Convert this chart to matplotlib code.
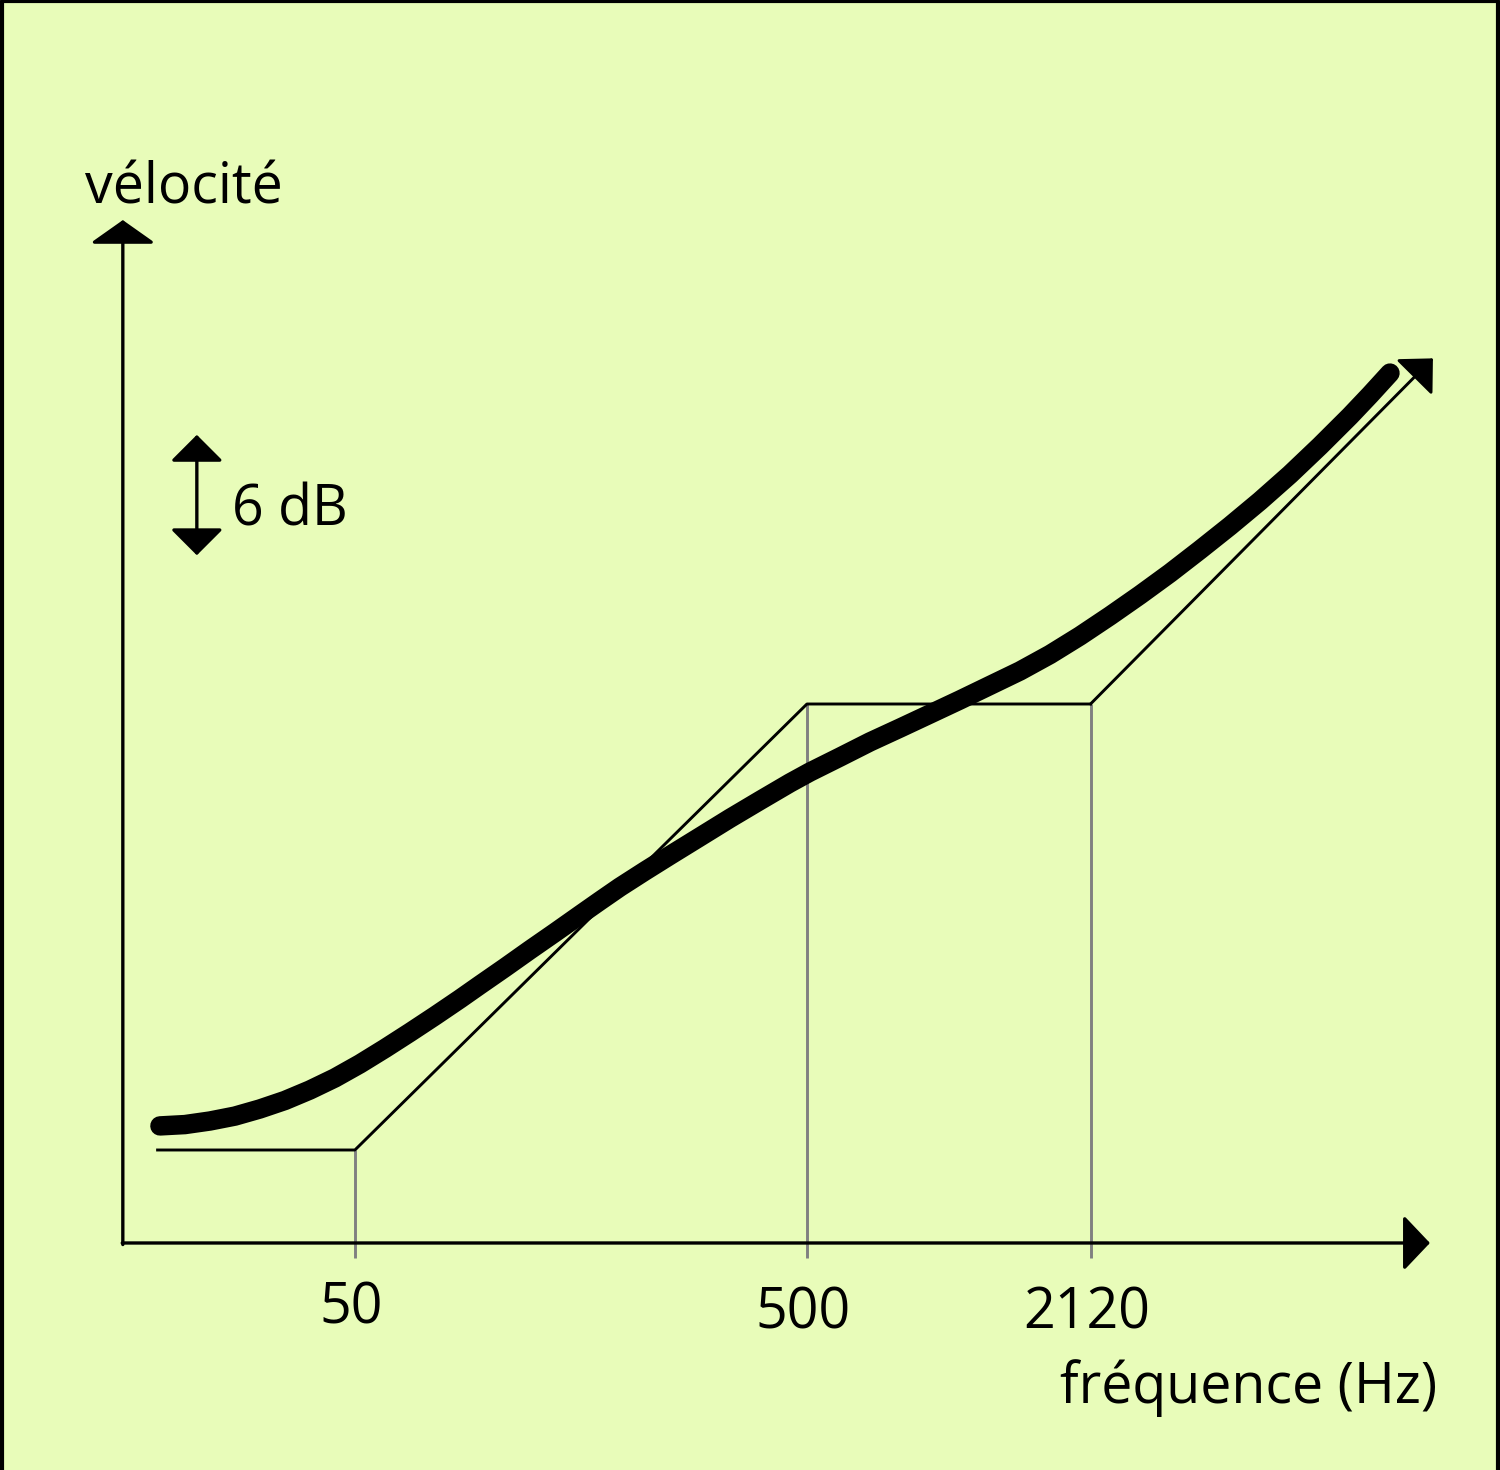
import matplotlib
matplotlib.use('Agg')
import matplotlib.pyplot as plt
from matplotlib.lines import Line2D

plt.rcParams['font.family'] = ['Open Sans', 'DejaVu Sans']

# Measured response (frequency in Hz, level in dB)
curve_hz = [18.52, 21.03, 23.89, 27.13, 30.81, 35.00, 39.75, 45.15, 51.29,
            58.25, 66.16, 75.15, 85.35, 94.52, 107.4, 121.9, 138.5, 157.3,
            174.2, 192.9, 219.1, 248.8, 289.9, 337.7, 393.5, 458.6, 507.7,
            591.6, 689.4, 803.2, 935.9, 1090, 1270, 1480, 1725, 2009, 2341,
            2728, 3178, 3702, 4313, 5025, 5855, 6822, 7948, 8804, 9746]
curve_db = [1.08, 1.14, 1.30, 1.52, 1.84, 2.22, 2.69, 3.23, 3.86,
            4.55, 5.27, 6.01, 6.77, 7.40, 8.18, 8.97, 9.75, 10.54,
            11.17, 11.79, 12.51, 13.21, 14.04, 14.87, 15.67, 16.46, 16.95,
            17.62, 18.30, 18.92, 19.55, 20.18, 20.83, 21.48, 22.22, 23.05, 23.95,
            24.89, 25.87, 26.91, 27.98, 29.10, 30.29, 31.57, 32.91, 33.86, 34.84]

# Straight-line asymptotes
asym_hz = [18.3, 50, 500, 2120, 12130]
asym_db = [0, 0, 20, 20, 35.5]

corner_hz = [50, 500, 2120]
corner_labels = ['50', '500', '2120']
corner_db = [0, 20, 20]

bg = '#e8fcb9'
fig = plt.figure(figsize=(15, 14.7), dpi=100)
fig.patch.set_facecolor(bg)
ax = fig.add_axes([0, 0, 1, 1])
ax.set_facecolor(bg)
ax.set_xscale('log')
ax.set_xlim(8.20, 17070)
ax.set_ylim(-14.35, 51.57)
ax.axis('off')

# axes with arrows
x0, y0 = 15.33, -4.17
ax.annotate('', xy=(x0, 41.7), xytext=(x0, y0 - 0.07),
            arrowprops=dict(arrowstyle='-|>,head_length=0.48,head_width=0.68',
                            mutation_scale=30, lw=2.4, color='black',
                            shrinkA=0, shrinkB=0))
ax.annotate('', xy=(11945, y0), xytext=(x0 * 0.997, y0),
            arrowprops=dict(arrowstyle='-|>,head_length=0.55,head_width=0.58',
                            mutation_scale=30, lw=2.4, color='black',
                            shrinkA=0, shrinkB=0))

# grey verticals at the corner frequencies
ax.vlines(corner_hz, -4.84, corner_db, color='#808080', lw=2.1, zorder=2)

# asymptotes
ax.plot(asym_hz[:-1], asym_db[:-1], color='black', lw=2.1, zorder=3)
ax.annotate('', xy=(asym_hz[-1], asym_db[-1]), xytext=(asym_hz[-2], asym_db[-2]),
            arrowprops=dict(arrowstyle='-|>,head_length=0.56,head_width=0.54',
                            mutation_scale=30, lw=2.1, color='black',
                            shrinkA=0, shrinkB=0), zorder=3)

# response curve
ax.plot(curve_hz, curve_db, color='black', lw=14, solid_capstyle='round',
        solid_joinstyle='round', zorder=4)

# 6 dB scale
ax.annotate('', xy=(22.35, 32.07), xytext=(22.35, 26.67),
            arrowprops=dict(arrowstyle='<|-|>,head_length=0.55,head_width=0.55',
                            mutation_scale=30, lw=2.4, color='black',
                            shrinkA=0, shrinkB=0))
ax.text(26.7, 28.0, '6 dB', fontsize=40, va='baseline', ha='left')

# corner labels
for f, lab, yb in zip(corner_hz, corner_labels, [-7.8, -8.0, -8.0]):
    ax.text(f * 0.98, yb, lab, fontsize=40, ha='center', va='baseline')

fig.text(85 / 1500, 1 - 203 / 1470, 'vélocité', fontsize=40, ha='left', va='baseline')
fig.text(1437 / 1500, 1 - 1403 / 1470, 'fréquence (Hz)', fontsize=40,
         ha='right', va='baseline')

# frame (left, top, right)
fig.add_artist(Line2D([0.0013, 0.0013, 0.9987, 0.9987], [0, 0.999, 0.999, 0],
                      transform=fig.transFigure, color='black', lw=3))

fig.savefig('out.png', dpi=100, facecolor=bg)
